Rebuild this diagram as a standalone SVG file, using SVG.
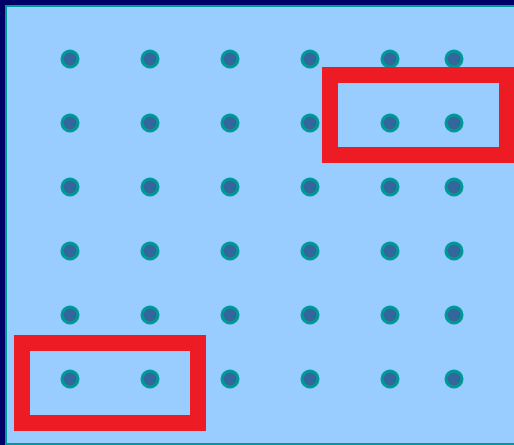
<svg xmlns="http://www.w3.org/2000/svg" width="514" height="445" viewBox="0 0 514 445">
<style>
.dot{fill:#336699;stroke:#009999;stroke-width:3}
.sel{fill:none;stroke:#ED1C24;stroke-width:16}
</style>
<rect x="0" y="0" width="514" height="445" fill="#000066"/>
<rect x="6" y="6" width="520" height="438" fill="#99CCFF" stroke="#009999" stroke-width="2"/>
<g id="dots">
<g id="row1"><circle class="dot" cx="70" cy="59" r="8"/><circle class="dot" cx="150" cy="59" r="8"/><circle class="dot" cx="230" cy="59" r="8"/><circle class="dot" cx="310" cy="59" r="8"/><circle class="dot" cx="390" cy="59" r="8"/><circle class="dot" cx="454" cy="59" r="8"/></g>
<g id="row2"><circle class="dot" cx="70" cy="123" r="8"/><circle class="dot" cx="150" cy="123" r="8"/><circle class="dot" cx="230" cy="123" r="8"/><circle class="dot" cx="310" cy="123" r="8"/><circle class="dot" cx="390" cy="123" r="8"/><circle class="dot" cx="454" cy="123" r="8"/></g>
<g id="row3"><circle class="dot" cx="70" cy="187" r="8"/><circle class="dot" cx="150" cy="187" r="8"/><circle class="dot" cx="230" cy="187" r="8"/><circle class="dot" cx="310" cy="187" r="8"/><circle class="dot" cx="390" cy="187" r="8"/><circle class="dot" cx="454" cy="187" r="8"/></g>
<g id="row4"><circle class="dot" cx="70" cy="251" r="8"/><circle class="dot" cx="150" cy="251" r="8"/><circle class="dot" cx="230" cy="251" r="8"/><circle class="dot" cx="310" cy="251" r="8"/><circle class="dot" cx="390" cy="251" r="8"/><circle class="dot" cx="454" cy="251" r="8"/></g>
<g id="row5"><circle class="dot" cx="70" cy="315" r="8"/><circle class="dot" cx="150" cy="315" r="8"/><circle class="dot" cx="230" cy="315" r="8"/><circle class="dot" cx="310" cy="315" r="8"/><circle class="dot" cx="390" cy="315" r="8"/><circle class="dot" cx="454" cy="315" r="8"/></g>
<g id="row6"><circle class="dot" cx="70" cy="379" r="8"/><circle class="dot" cx="150" cy="379" r="8"/><circle class="dot" cx="230" cy="379" r="8"/><circle class="dot" cx="310" cy="379" r="8"/><circle class="dot" cx="390" cy="379" r="8"/><circle class="dot" cx="454" cy="379" r="8"/></g>
</g>
<g id="selections">
<rect class="sel" x="330" y="75" width="177" height="80"/>
<rect class="sel" x="22" y="343" width="176" height="80"/>
</g>
</svg>
